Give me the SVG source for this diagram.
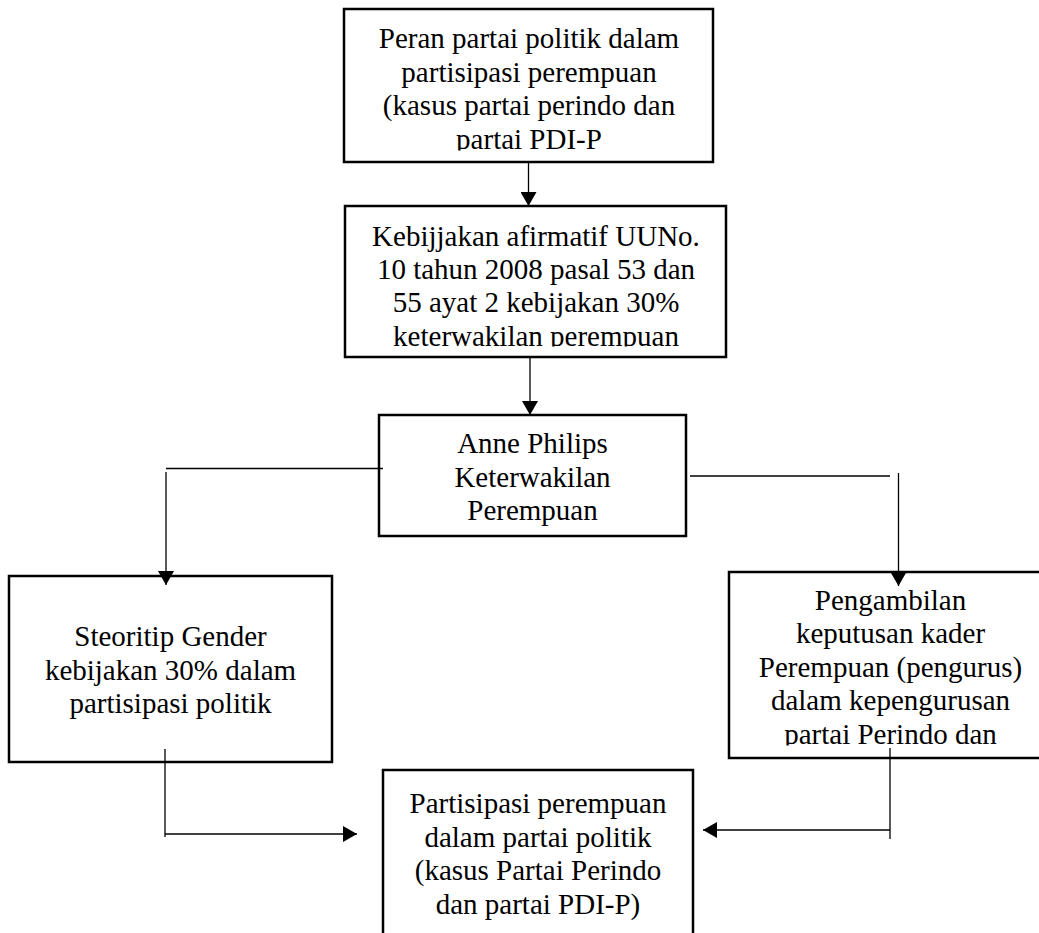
<svg xmlns="http://www.w3.org/2000/svg" width="1039" height="933" viewBox="0 0 1039 933">
<style>
.box{fill:#fff;stroke:#000;stroke-width:2.5}
.t{font-family:"Liberation Serif","Times New Roman",serif;font-size:29px;fill:#000;text-anchor:middle}
.c{fill:none;stroke:#000;stroke-width:1.3}
</style>
<defs>
<marker id="ah" viewBox="0 0 14 16" refX="14" refY="8" markerWidth="14" markerHeight="16" markerUnits="userSpaceOnUse" orient="auto">
<path d="M0,0 L14,8 L0,16 z" fill="#000"/>
</marker>
<clipPath id="clip1"><rect x="344" y="9" width="369" height="141.5"/></clipPath>
<clipPath id="clip2"><rect x="345" y="206" width="381" height="140.5"/></clipPath>
<clipPath id="clip5"><rect x="729" y="572" width="323" height="173.5"/></clipPath>
</defs>
<rect width="1039" height="933" fill="#fff"/>
<g id="n1">
<rect class="box" x="344" y="9" width="369" height="153"/>
<g clip-path="url(#clip1)">
<text class="t" x="529" y="48.3">Peran partai politik dalam</text>
<text class="t" x="529" y="81.7">partisipasi perempuan</text>
<text class="t" x="529" y="115.1">(kasus partai perindo dan</text>
<text class="t" x="529" y="148.5">partai PDI-P</text>
</g>
</g>
<g id="n2">
<rect class="box" x="345" y="206" width="381" height="151"/>
<g clip-path="url(#clip2)">
<text class="t" x="536" y="245.7">Kebijjakan afirmatif UUNo.</text>
<text class="t" x="536" y="279">10 tahun 2008 pasal 53 dan</text>
<text class="t" x="536" y="312.4">55 ayat 2 kebijakan 30%</text>
<text class="t" x="536" y="345.8">keterwakilan perempuan</text>
</g>
</g>
<g id="n3">
<rect class="box" x="379" y="415" width="307" height="121"/>
<text class="t" x="532.5" y="453">Anne Philips</text>
<text class="t" x="532.5" y="486.5">Keterwakilan</text>
<text class="t" x="532.5" y="520">Perempuan</text>
</g>
<g id="n4">
<rect class="box" x="9" y="576" width="323" height="186"/>
<text class="t" x="170.5" y="646">Steoritip Gender</text>
<text class="t" x="170.5" y="679.5">kebijakan 30% dalam</text>
<text class="t" x="170.5" y="713">partisipasi politik</text>
</g>
<g id="n5">
<rect class="box" x="729" y="572" width="323" height="186"/>
<g clip-path="url(#clip5)">
<text class="t" x="890.5" y="610">Pengambilan</text>
<text class="t" x="890.5" y="643.4">keputusan kader</text>
<text class="t" x="890.5" y="676.8">Perempuan (pengurus)</text>
<text class="t" x="890.5" y="710.2">dalam kepengurusan</text>
<text class="t" x="890.5" y="743.6">partai Perindo dan</text>
</g>
</g>
<g id="n6">
<rect class="box" x="383" y="770" width="310" height="200"/>
<text class="t" x="538" y="813">Partisipasi perempuan</text>
<text class="t" x="538" y="846.5">dalam partai politik</text>
<text class="t" x="538" y="880">(kasus Partai Perindo</text>
<text class="t" x="538" y="913.5">dan partai PDI-P)</text>
</g>
<g id="connectors">
<line class="c" x1="528.5" y1="162" x2="528.5" y2="206" marker-end="url(#ah)"/>
<line class="c" x1="530" y1="357" x2="530" y2="415" marker-end="url(#ah)"/>
<line class="c" x1="166" y1="468.5" x2="383" y2="468.5"/>
<line class="c" x1="166" y1="472" x2="166" y2="585" marker-end="url(#ah)"/>
<line class="c" x1="690" y1="476" x2="890" y2="476"/>
<line class="c" x1="898.5" y1="473" x2="898.5" y2="586" marker-end="url(#ah)"/>
<line class="c" x1="165" y1="749" x2="165" y2="837"/>
<line class="c" x1="165" y1="834" x2="357" y2="834" marker-end="url(#ah)"/>
<line class="c" x1="890" y1="748" x2="890" y2="839"/>
<line class="c" x1="890" y1="830" x2="703" y2="830" marker-end="url(#ah)"/>
</g>
</svg>
